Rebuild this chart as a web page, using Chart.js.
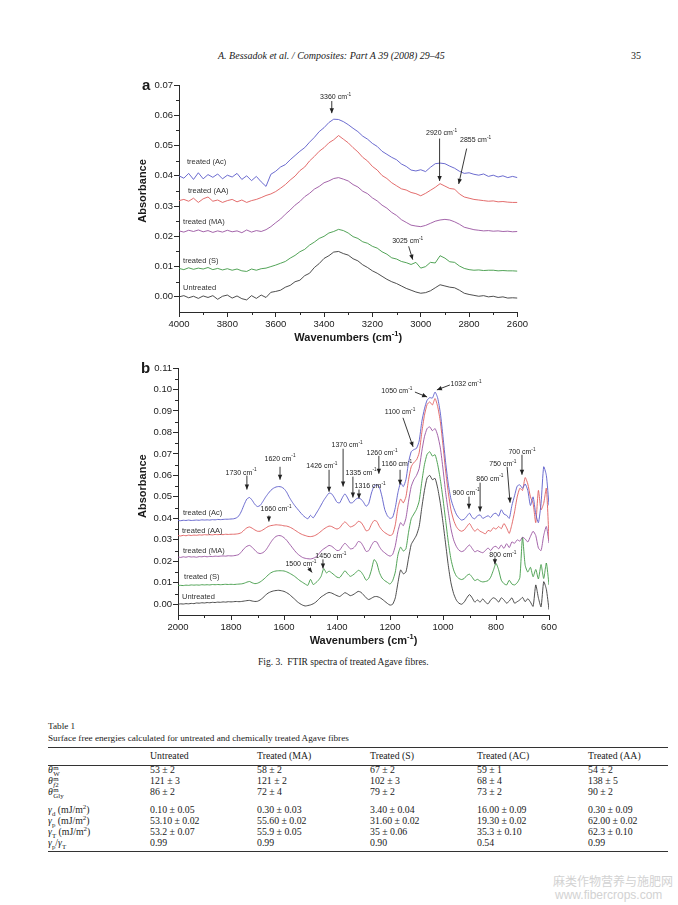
<!DOCTYPE html>
<html>
<head>
<meta charset="utf-8">
<title>FTIR spectra of treated Agave fibres</title>
<script src="https://cdn.jsdelivr.net/npm/chart.js@4.4.0/dist/chart.umd.min.js"></script>
<style>
  body { margin: 0; width: 678px; height: 905px; position: relative; overflow: hidden; background: #fff; color: #1a1a1a; font-family: "Liberation Serif", "Times New Roman", serif; }
  .abs { position: absolute; white-space: nowrap; }
  canvas { position: absolute; }
  .tbl { font-size: 9.8px; line-height: 11px; }
  .rule { position: absolute; left: 48px; width: 620px; height: 0; border-top: 1px solid #333; }
  sub, sup { font-size: 0.7em; line-height: 0; }
  .ss { display: inline-block; vertical-align: middle; font-size: 0.7em; line-height: 0.8em; margin-left: 0.5px; }
  .ss span { display: block; }
  .wm { color: #d2d2d2; font-family: "Noto Sans CJK SC", "Noto Sans", sans-serif; font-size: 12px; }
</style>
</head>
<body>

<div class="abs" style="left:218px;top:50px;font-size:10px;font-style:italic;">A. Bessadok et al. / Composites: Part A 39 (2008) 29–45</div>
<div class="abs" style="left:631px;top:50px;font-size:10px;">35</div>

<canvas id="chartA" width="400" height="272" style="left:130px;top:78px;width:400px;height:272px"></canvas>
<canvas id="chartB" width="430" height="290" style="left:130px;top:360px;width:430px;height:290px"></canvas>

<div class="abs" style="left:258px;top:657px;font-size:9.5px;">Fig. 3.&nbsp; FTIR spectra of treated Agave fibres.</div>

<div class="abs tbl" style="left:48px;top:721px;font-size:9.2px;">Table 1</div>
<div class="abs tbl" style="left:48px;top:733px;font-size:9.2px;">Surface free energies calculated for untreated and chemically treated Agave fibres</div>
<div class="rule" style="top:747px"></div>
<div class="rule" style="top:765px"></div>
<div class="rule" style="top:851px"></div>
<div id="table"></div>

<div class="abs wm" style="left:553px;top:872px;">麻类作物营养与施肥网</div>
<div class="abs wm" style="left:555px;top:888px;font-family:'Liberation Sans',sans-serif;font-size:12px;">www.fibercrops.com</div>

<script>
// ---- data: panel a (3-band region), wavenumbers in cm-1 ----
const WN_A = [
  4000, 3980, 3960, 3940, 3920, 3900, 3880, 3860, 3840, 3820,
  3800, 3780, 3760, 3740, 3720, 3700, 3680, 3660, 3640, 3620,
  3600, 3580, 3560, 3540, 3520, 3500, 3480, 3460, 3440, 3420,
  3400, 3380, 3360, 3340, 3320, 3300, 3280, 3260, 3240, 3220,
  3200, 3180, 3160, 3140, 3120, 3100, 3080, 3060, 3040, 3020,
  3000, 2980, 2960, 2940, 2920, 2900, 2880, 2860, 2840, 2820,
  2800, 2780, 2760, 2740, 2720, 2700, 2680, 2660, 2640, 2620,
  2600
];
const AC_A = [
  0.0400, 0.0392, 0.0408, 0.0388, 0.0410, 0.0390, 0.0404, 0.0395, 0.0406, 0.0390,
  0.0402, 0.0396, 0.0408, 0.0388, 0.0400, 0.0384, 0.0398, 0.0380, 0.0365, 0.0405,
  0.0415, 0.0429, 0.0437, 0.0453, 0.0467, 0.0481, 0.0493, 0.0511, 0.0527, 0.0546,
  0.0559, 0.0576, 0.0587, 0.0586, 0.0579, 0.0569, 0.0557, 0.0546, 0.0531, 0.0521,
  0.0507, 0.0497, 0.0481, 0.0471, 0.0461, 0.0453, 0.0439, 0.0431, 0.0419, 0.0416,
  0.0420, 0.0414, 0.0428, 0.0440, 0.0442, 0.0440, 0.0432, 0.0425, 0.0415, 0.0408,
  0.0410, 0.0405, 0.0402, 0.0406, 0.0398, 0.0402, 0.0396, 0.0400, 0.0394, 0.0398,
  0.0394
];
const AA_A = [
  0.0318, 0.0322, 0.0316, 0.0326, 0.0312, 0.0324, 0.0330, 0.0316, 0.0320, 0.0312,
  0.0318, 0.0322, 0.0314, 0.0320, 0.0312, 0.0318, 0.0322, 0.0328, 0.0335, 0.0340,
  0.0348, 0.0359, 0.0371, 0.0386, 0.0399, 0.0417, 0.0429, 0.0449, 0.0464, 0.0481,
  0.0493, 0.0509, 0.0519, 0.0533, 0.0521, 0.0509, 0.0493, 0.0479, 0.0461, 0.0449,
  0.0431, 0.0419, 0.0401, 0.0391, 0.0377, 0.0367, 0.0357, 0.0353, 0.0345, 0.0341,
  0.0334, 0.0342, 0.0352, 0.0362, 0.0374, 0.0366, 0.0358, 0.0356, 0.0340, 0.0330,
  0.0326, 0.0322, 0.0320, 0.0318, 0.0316, 0.0317, 0.0314, 0.0315, 0.0313, 0.0312,
  0.0312
];
const MA_A = [
  0.0218, 0.0214, 0.0220, 0.0216, 0.0221, 0.0215, 0.0219, 0.0213, 0.0218, 0.0214,
  0.0220, 0.0215, 0.0218, 0.0212, 0.0221, 0.0214, 0.0219, 0.0216, 0.0222, 0.0232,
  0.0245, 0.0257, 0.0273, 0.0287, 0.0303, 0.0315, 0.0331, 0.0342, 0.0356, 0.0365,
  0.0377, 0.0383, 0.0391, 0.0394, 0.0389, 0.0383, 0.0371, 0.0363, 0.0349, 0.0341,
  0.0327, 0.0317, 0.0303, 0.0293, 0.0279, 0.0269, 0.0255, 0.0246, 0.0237, 0.0234,
  0.0232, 0.0236, 0.0243, 0.0250, 0.0254, 0.0256, 0.0254, 0.0248, 0.0240, 0.0230,
  0.0226, 0.0222, 0.0220, 0.0218, 0.0219, 0.0217, 0.0218, 0.0216, 0.0217, 0.0215,
  0.0216
];
const S_A = [
  0.0094, 0.0090, 0.0096, 0.0091, 0.0095, 0.0092, 0.0097, 0.0090, 0.0094, 0.0089,
  0.0093, 0.0088, 0.0092, 0.0086, 0.0084, 0.0092, 0.0088, 0.0093, 0.0095, 0.0100,
  0.0105, 0.0111, 0.0117, 0.0128, 0.0137, 0.0149, 0.0157, 0.0171, 0.0181, 0.0193,
  0.0200, 0.0211, 0.0216, 0.0223, 0.0219, 0.0211, 0.0199, 0.0193, 0.0182, 0.0177,
  0.0167, 0.0161, 0.0149, 0.0141, 0.0129, 0.0125, 0.0117, 0.0113, 0.0107, 0.0114,
  0.0095, 0.0100, 0.0114, 0.0112, 0.0136, 0.0128, 0.0116, 0.0114, 0.0102, 0.0094,
  0.0090, 0.0088, 0.0089, 0.0087, 0.0088, 0.0088, 0.0086, 0.0087, 0.0086, 0.0086,
  0.0085
];
const UNTREATED_A = [
  0.0000, 0.0004, -0.0003, 0.0002, -0.0005, 0.0003, -0.0002, 0.0004, -0.0008, 0.0002,
  0.0006, -0.0004, 0.0003, -0.0006, -0.0010, 0.0004, -0.0005, 0.0006, -0.0002, 0.0015,
  0.0018, 0.0022, 0.0032, 0.0038, 0.0050, 0.0055, 0.0070, 0.0078, 0.0097, 0.0110,
  0.0127, 0.0136, 0.0148, 0.0150, 0.0143, 0.0138, 0.0126, 0.0119, 0.0106, 0.0097,
  0.0086, 0.0078, 0.0068, 0.0058, 0.0050, 0.0044, 0.0036, 0.0028, 0.0022, 0.0016,
  0.0012, 0.0014, 0.0020, 0.0030, 0.0040, 0.0036, 0.0032, 0.0030, 0.0022, 0.0012,
  0.0008, 0.0005, 0.0002, 0.0004, 0.0000, 0.0002, -0.0002, 0.0000, -0.0004, -0.0003,
  -0.0004
];

// ---- data: panel b (fingerprint region) ----
const WN_B = [
  2000, 1990, 1980, 1970, 1960, 1950, 1940, 1930, 1920, 1910,
  1900, 1890, 1880, 1870, 1860, 1850, 1840, 1830, 1820, 1810,
  1800, 1790, 1780, 1770, 1760, 1750, 1740, 1730, 1720, 1710,
  1700, 1690, 1680, 1670, 1660, 1650, 1640, 1630, 1620, 1610,
  1600, 1590, 1580, 1570, 1560, 1550, 1540, 1530, 1520, 1510,
  1500, 1490, 1480, 1470, 1460, 1450, 1440, 1430, 1420, 1410,
  1400, 1390, 1380, 1370, 1360, 1350, 1340, 1330, 1320, 1310,
  1300, 1290, 1280, 1270, 1260, 1250, 1240, 1230, 1220, 1210,
  1200, 1190, 1180, 1170, 1160, 1150, 1140, 1130, 1120, 1110,
  1100, 1090, 1080, 1070, 1060, 1050, 1040, 1030, 1020, 1010,
  1000, 990, 980, 970, 960, 950, 940, 930, 920, 910,
  900, 890, 880, 870, 860, 850, 840, 830, 820, 810,
  800, 790, 780, 770, 760, 750, 740, 730, 720, 710,
  700, 690, 680, 670, 660, 650, 640, 630, 620, 610,
  600
];
const AC_B = [
  0.0390, 0.0389, 0.0391, 0.0390, 0.0392, 0.0390, 0.0391, 0.0392, 0.0391, 0.0393,
  0.0392, 0.0393, 0.0392, 0.0394, 0.0393, 0.0395, 0.0394, 0.0395, 0.0396, 0.0396,
  0.0397, 0.0398, 0.0402, 0.0412, 0.0435, 0.0465, 0.0490, 0.0497, 0.0484, 0.0465,
  0.0455, 0.0460, 0.0478, 0.0498, 0.0515, 0.0530, 0.0540, 0.0546, 0.0548, 0.0546,
  0.0538, 0.0522, 0.0498, 0.0478, 0.0460, 0.0445, 0.0430, 0.0416, 0.0405, 0.0398,
  0.0414, 0.0402, 0.0420, 0.0440, 0.0462, 0.0484, 0.0502, 0.0518, 0.0514, 0.0496,
  0.0475, 0.0472, 0.0496, 0.0514, 0.0495, 0.0472, 0.0474, 0.0488, 0.0495, 0.0490,
  0.0475, 0.0456, 0.0470, 0.0518, 0.0550, 0.0556, 0.0545, 0.0500, 0.0442, 0.0412,
  0.0400, 0.0405, 0.0450, 0.0520, 0.0565, 0.0548, 0.0580, 0.0660, 0.0710, 0.0720,
  0.0726, 0.0760, 0.0850, 0.0910, 0.0950, 0.0962, 0.0960, 0.0988, 0.0960, 0.0890,
  0.0780, 0.0660, 0.0560, 0.0490, 0.0450, 0.0420, 0.0402, 0.0392, 0.0396, 0.0410,
  0.0424, 0.0404, 0.0398, 0.0412, 0.0416, 0.0400, 0.0406, 0.0412, 0.0404, 0.0420,
  0.0424, 0.0410, 0.0440, 0.0420, 0.0414, 0.0400, 0.0460, 0.0505, 0.0550, 0.0556,
  0.0540, 0.0560, 0.0530, 0.0460, 0.0500, 0.0420, 0.0380, 0.0470, 0.0640, 0.0600,
  0.0460
];
const AA_B = [
  0.0320, 0.0318, 0.0321, 0.0319, 0.0322, 0.0320, 0.0322, 0.0321, 0.0323, 0.0322,
  0.0324, 0.0323, 0.0324, 0.0323, 0.0325, 0.0324, 0.0325, 0.0324, 0.0326, 0.0325,
  0.0326, 0.0326, 0.0327, 0.0329, 0.0334, 0.0346, 0.0356, 0.0360, 0.0354, 0.0346,
  0.0340, 0.0340, 0.0346, 0.0354, 0.0362, 0.0366, 0.0368, 0.0370, 0.0369, 0.0368,
  0.0365, 0.0364, 0.0360, 0.0354, 0.0346, 0.0338, 0.0330, 0.0324, 0.0320, 0.0316,
  0.0315, 0.0317, 0.0322, 0.0330, 0.0340, 0.0350, 0.0358, 0.0364, 0.0362, 0.0355,
  0.0350, 0.0356, 0.0372, 0.0384, 0.0372, 0.0360, 0.0364, 0.0372, 0.0386, 0.0382,
  0.0364, 0.0342, 0.0346, 0.0372, 0.0390, 0.0386, 0.0362, 0.0345, 0.0334, 0.0326,
  0.0320, 0.0326, 0.0370, 0.0450, 0.0490, 0.0472, 0.0500, 0.0580, 0.0640, 0.0660,
  0.0672, 0.0705, 0.0800, 0.0880, 0.0930, 0.0942, 0.0928, 0.0958, 0.0920, 0.0850,
  0.0740, 0.0620, 0.0520, 0.0440, 0.0392, 0.0362, 0.0346, 0.0340, 0.0346, 0.0362,
  0.0376, 0.0356, 0.0340, 0.0350, 0.0340, 0.0334, 0.0328, 0.0344, 0.0340, 0.0356,
  0.0350, 0.0362, 0.0352, 0.0376, 0.0356, 0.0330, 0.0372, 0.0430, 0.0500, 0.0540,
  0.0530, 0.0590, 0.0560, 0.0500, 0.0470, 0.0380, 0.0530, 0.0440, 0.0470, 0.0540,
  0.0300
];
const MA_B = [
  0.0220, 0.0218, 0.0221, 0.0219, 0.0222, 0.0220, 0.0221, 0.0219, 0.0222, 0.0221,
  0.0223, 0.0221, 0.0223, 0.0222, 0.0224, 0.0223, 0.0224, 0.0225, 0.0224, 0.0226,
  0.0225, 0.0226, 0.0228, 0.0232, 0.0245, 0.0260, 0.0270, 0.0274, 0.0265, 0.0252,
  0.0240, 0.0236, 0.0240, 0.0250, 0.0268, 0.0288, 0.0305, 0.0316, 0.0320, 0.0318,
  0.0310, 0.0298, 0.0282, 0.0266, 0.0250, 0.0236, 0.0226, 0.0218, 0.0214, 0.0212,
  0.0211, 0.0214, 0.0220, 0.0232, 0.0248, 0.0258, 0.0266, 0.0274, 0.0270, 0.0260,
  0.0250, 0.0252, 0.0270, 0.0284, 0.0272, 0.0258, 0.0260, 0.0272, 0.0292, 0.0288,
  0.0268, 0.0246, 0.0250, 0.0274, 0.0292, 0.0290, 0.0268, 0.0250, 0.0240, 0.0230,
  0.0224, 0.0232, 0.0272, 0.0340, 0.0380, 0.0366, 0.0400, 0.0480, 0.0548, 0.0580,
  0.0600, 0.0632, 0.0712, 0.0780, 0.0818, 0.0826, 0.0808, 0.0818, 0.0786, 0.0728,
  0.0630, 0.0520, 0.0430, 0.0352, 0.0300, 0.0270, 0.0252, 0.0245, 0.0250, 0.0265,
  0.0276, 0.0260, 0.0244, 0.0250, 0.0244, 0.0240, 0.0250, 0.0262, 0.0250, 0.0266,
  0.0270, 0.0258, 0.0276, 0.0260, 0.0282, 0.0264, 0.0290, 0.0284, 0.0300, 0.0294,
  0.0312, 0.0304, 0.0290, 0.0316, 0.0340, 0.0320, 0.0262, 0.0250, 0.0320, 0.0362,
  0.0285
];
const S_B = [
  0.0087, 0.0088, 0.0087, 0.0089, 0.0088, 0.0090, 0.0089, 0.0090, 0.0089, 0.0091,
  0.0090, 0.0091, 0.0090, 0.0092, 0.0091, 0.0092, 0.0091, 0.0092, 0.0093, 0.0092,
  0.0093, 0.0092, 0.0093, 0.0094, 0.0095, 0.0098, 0.0103, 0.0106, 0.0100, 0.0096,
  0.0098, 0.0104, 0.0113, 0.0124, 0.0136, 0.0146, 0.0152, 0.0155, 0.0156, 0.0156,
  0.0155, 0.0151, 0.0145, 0.0138, 0.0130, 0.0120, 0.0110, 0.0102, 0.0094, 0.0088,
  0.0116, 0.0092, 0.0100, 0.0112, 0.0130, 0.0166, 0.0146, 0.0154, 0.0146, 0.0136,
  0.0126, 0.0124, 0.0140, 0.0156, 0.0142, 0.0130, 0.0136, 0.0146, 0.0158, 0.0152,
  0.0134, 0.0112, 0.0122, 0.0160, 0.0208, 0.0192, 0.0148, 0.0122, 0.0110, 0.0102,
  0.0094, 0.0110, 0.0150, 0.0230, 0.0266, 0.0248, 0.0258, 0.0335, 0.0398, 0.0420,
  0.0442, 0.0480, 0.0570, 0.0650, 0.0698, 0.0710, 0.0690, 0.0696, 0.0650, 0.0580,
  0.0490, 0.0390, 0.0290, 0.0210, 0.0160, 0.0132, 0.0120, 0.0115, 0.0120, 0.0134,
  0.0140, 0.0126, 0.0110, 0.0116, 0.0108, 0.0104, 0.0106, 0.0110, 0.0126, 0.0158,
  0.0190, 0.0160, 0.0112, 0.0096, 0.0090, 0.0112, 0.0094, 0.0090, 0.0100, 0.0124,
  0.0312, 0.0182, 0.0150, 0.0172, 0.0128, 0.0162, 0.0118, 0.0185, 0.0120, 0.0192,
  0.0090
];
const UNTREATED_B = [
  0.0000, 0.0002, 0.0001, 0.0003, 0.0002, 0.0004, 0.0003, 0.0006, 0.0005, 0.0007,
  0.0006, 0.0008, 0.0007, 0.0009, 0.0008, 0.0010, 0.0009, 0.0011, 0.0010, 0.0012,
  0.0011, 0.0012, 0.0013, 0.0012, 0.0013, 0.0015, 0.0017, 0.0018, 0.0015, 0.0013,
  0.0014, 0.0020, 0.0030, 0.0042, 0.0052, 0.0058, 0.0062, 0.0064, 0.0065, 0.0063,
  0.0060, 0.0054, 0.0046, 0.0035, 0.0024, 0.0012, 0.0003, -0.0004, -0.0008, -0.0006,
  -0.0003, 0.0002, 0.0010, 0.0022, 0.0034, 0.0042, 0.0050, 0.0055, 0.0052, 0.0046,
  0.0040, 0.0036, 0.0045, 0.0054, 0.0048, 0.0040, 0.0044, 0.0052, 0.0060, 0.0056,
  0.0044, 0.0030, 0.0022, 0.0028, 0.0035, 0.0036, 0.0032, 0.0024, 0.0014, 0.0004,
  -0.0004, 0.0000, 0.0030, 0.0100, 0.0160, 0.0142, 0.0150, 0.0215, 0.0278, 0.0300,
  0.0322, 0.0362, 0.0450, 0.0530, 0.0588, 0.0600, 0.0580, 0.0586, 0.0540, 0.0470,
  0.0380, 0.0280, 0.0180, 0.0100, 0.0050, 0.0020, 0.0005, 0.0000, 0.0010, 0.0030,
  0.0045, 0.0030, 0.0010, 0.0020, 0.0010, 0.0025, 0.0010, 0.0002, 0.0020, 0.0030,
  0.0024, 0.0010, 0.0030, 0.0020, 0.0005, 0.0015, 0.0030, 0.0005, 0.0012, 0.0020,
  0.0032, 0.0012, 0.0026, 0.0010, -0.0010, 0.0090, 0.0030, -0.0012, 0.0105, 0.0070,
  -0.0025
];

const SERIES_NAMES = ['treated (Ac)', 'treated (AA)', 'treated (MA)', 'treated (S)', 'Untreated'];
const X_TICKS_A = [4000, 3800, 3600, 3400, 3200, 3000, 2800, 2600];
const Y_TICKS_A = [0, 0.01, 0.02, 0.03, 0.04, 0.05, 0.06, 0.07];
const X_TICKS_B = [2000, 1800, 1600, 1400, 1200, 1000, 800, 600];
const Y_TICKS_B = [0, 0.01, 0.02, 0.03, 0.04, 0.05, 0.06, 0.07, 0.08, 0.09, 0.10, 0.11];

// band labels: text, label centre, arrow start, arrow end (wavenumber, absorbance)
const PEAKS_A = [
  { t: '3360', at: [3352, 0.0660], from: [3368, 0.0647], to: [3368, 0.0607] },
  { t: '2920', at: [2914, 0.0540], from: [2922, 0.0523], to: [2922, 0.0383] },
  { t: '2855', at: [2773, 0.0517], from: [2810, 0.0490], to: [2843, 0.0373] },
  { t: '3025', at: [3054, 0.0183], from: [3050, 0.0167], to: [3033, 0.0123] }
];
const PEAKS_B = [
  { t: '1730', at: [1762, 0.0613], from: [1740, 0.0599], to: [1740, 0.0534] },
  { t: '1620', at: [1615, 0.0678], from: [1615, 0.0640], to: [1615, 0.0580] },
  { t: '1426', at: [1457, 0.0645], from: [1430, 0.0626], to: [1430, 0.0524] },
  { t: '1370', at: [1362, 0.0742], from: [1377, 0.0724], to: [1377, 0.0548] },
  { t: '1335', at: [1309, 0.0613], from: [1340, 0.0594], to: [1340, 0.0497] },
  { t: '1316', at: [1275, 0.0548], from: [1317, 0.0534], to: [1317, 0.0492] },
  { t: '1260', at: [1230, 0.0705], from: [1242, 0.0691], to: [1242, 0.0608] },
  { t: '1160', at: [1174, 0.0654], from: [1162, 0.0626], to: [1162, 0.0557] },
  { t: '1100', at: [1162, 0.0896], from: [1151, 0.0868], to: [1113, 0.0733] },
  { t: '1050', at: [1174, 0.0993], from: [1106, 0.0988], to: [1060, 0.0965] },
  { t: '1032', at: [913, 0.1026], from: [974, 0.1021], to: [1023, 0.0998] },
  { t: '900', at: [913, 0.0520], from: [902, 0.0501], to: [902, 0.0445] },
  { t: '860', at: [823, 0.0585], from: [860, 0.0566], to: [860, 0.0432] },
  { t: '750', at: [774, 0.0654], from: [758, 0.0640], to: [747, 0.0473] },
  { t: '700', at: [702, 0.0710], from: [702, 0.0696], to: [702, 0.0603] },
  { t: '1660', at: [1630, 0.0441], from: [1657, 0.0413], to: [1657, 0.0385] },
  { t: '1500', at: [1536, 0.0186], from: [1509, 0.0172], to: [1494, 0.0148] },
  { t: '1450', at: [1423, 0.0223], from: [1453, 0.0209], to: [1453, 0.0167] },
  { t: '800', at: [774, 0.0227], from: [804, 0.0218], to: [804, 0.0186] }
];
const NAME_POS_A = [[3967, 0.0447], [3963, 0.0350], [3983, 0.0247], [3983, 0.0120], [3983, 0.0030]];
const NAME_POS_B = [[1981, 0.0427], [1985, 0.0343], [1981, 0.0246], [1977, 0.0125], [1985, 0.0032]];

// table 1
const TABLE_COLS = ['Untreated', 'Treated (MA)', 'Treated (S)', 'Treated (AC)', 'Treated (AA)'];
const TABLE_LABELS = [
  '<i>θ</i><span class="ss"><span>m</span><span>W</span></span>',
  '<i>θ</i><span class="ss"><span>m</span><span><i>f</i>2</span></span>',
  '<i>θ</i><span class="ss"><span>m</span><span>Gly</span></span>',
  '<i>γ</i><sub>d</sub> (mJ/m<sup>2</sup>)',
  '<i>γ</i><sub>p</sub> (mJ/m<sup>2</sup>)',
  '<i>γ</i><sub>T</sub> (mJ/m<sup>2</sup>)',
  '<i>γ</i><sub>p</sub>/<i>γ</i><sub>T</sub>'
];
const TABLE_ROWS = [
  ['53 ± 2', '58 ± 2', '67 ± 2', '59 ± 1', '54 ± 2'],
  ['121 ± 3', '121 ± 2', '102 ± 3', '68 ± 4', '138 ± 5'],
  ['86 ± 2', '72 ± 4', '79 ± 2', '73 ± 2', '90 ± 2'],
  ['0.10 ± 0.05', '0.30 ± 0.03', '3.40 ± 0.04', '16.00 ± 0.09', '0.30 ± 0.09'],
  ['53.10 ± 0.02', '55.60 ± 0.02', '31.60 ± 0.02', '19.30 ± 0.02', '62.00 ± 0.02'],
  ['53.2 ± 0.07', '55.9 ± 0.05', '35 ± 0.06', '35.3 ± 0.10', '62.3 ± 0.10'],
  ['0.99', '0.99', '0.90', '0.54', '0.99']
];

// ---- styling ----
const LINE_COLORS = ['#5b5bc9', '#e05c5c', '#9a54a0', '#3f9a45', '#3a3a3a'];
const AXIS = '#2a2a2a';
const SANS = '"Liberation Sans", Arial, sans-serif';
const COL_X = [48, 150, 257, 370, 477, 588];
const ROW_Y = [770, 781, 792, 810, 821, 832, 843];

(function buildTable() {
  const host = document.getElementById('table');
  let html = '';
  TABLE_COLS.forEach((c, i) => {
    html += `<div class="abs tbl" style="left:${COL_X[i + 1]}px;top:${756 - 6}px">${c}</div>`;
  });
  TABLE_ROWS.forEach((row, r) => {
    html += `<div class="abs tbl" style="left:${COL_X[0]}px;top:${ROW_Y[r] - 6}px">${TABLE_LABELS[r]}</div>`;
    row.forEach((v, c) => {
      html += `<div class="abs tbl" style="left:${COL_X[c + 1]}px;top:${ROW_Y[r] - 6}px">${v}</div>`;
    });
  });
  host.innerHTML = html;
})();

function drawRich(ctx, parts, x, y, size, bold, align) {
  const w = bold ? 'bold ' : '';
  let total = 0;
  const widths = parts.map(([t, sup]) => {
    ctx.font = w + (sup ? size * 0.68 : size) + 'px ' + SANS;
    const m = ctx.measureText(t).width;
    total += m;
    return m;
  });
  let cx = align === 'center' ? x - total / 2 : x;
  ctx.textAlign = 'left';
  ctx.textBaseline = 'middle';
  parts.forEach(([t, sup], i) => {
    ctx.font = w + (sup ? size * 0.68 : size) + 'px ' + SANS;
    ctx.fillText(t, cx, sup ? y - size * 0.35 : y);
    cx += widths[i];
  });
}

function arrow(ctx, x0, y0, x1, y1) {
  ctx.beginPath();
  ctx.moveTo(x0, y0);
  ctx.lineTo(x1, y1);
  ctx.stroke();
  const a = Math.atan2(y1 - y0, x1 - x0), L = 5, W = 2.2;
  ctx.beginPath();
  ctx.moveTo(x1, y1);
  ctx.lineTo(x1 - L * Math.cos(a) + W * Math.sin(a), y1 - L * Math.sin(a) - W * Math.cos(a));
  ctx.lineTo(x1 - L * Math.cos(a) - W * Math.sin(a), y1 - L * Math.sin(a) + W * Math.cos(a));
  ctx.closePath();
  ctx.fill();
}

const overlay = {
  id: 'overlay',
  afterDraw(chart, args, o) {
    const ctx = chart.ctx, xs = chart.scales.x, ys = chart.scales.y, area = chart.chartArea;
    ctx.save();

    // minor ticks halfway between the labelled ones
    ctx.strokeStyle = AXIS;
    ctx.lineWidth = 1;
    ctx.beginPath();
    for (let i = 0; i < o.xTicks.length - 1; i++) {
      const px = Math.round(xs.getPixelForValue((o.xTicks[i] + o.xTicks[i + 1]) / 2)) + 0.5;
      ctx.moveTo(px, area.bottom);
      ctx.lineTo(px, area.bottom + 3);
    }
    for (let i = 0; i < o.yTicks.length - 1; i++) {
      const py = Math.round(ys.getPixelForValue((o.yTicks[i] + o.yTicks[i + 1]) / 2)) + 0.5;
      ctx.moveTo(area.left, py);
      ctx.lineTo(area.left - 3, py);
    }
    ctx.stroke();

    // series names
    ctx.fillStyle = '#333';
    ctx.font = '7.5px ' + SANS;
    ctx.textAlign = 'left';
    ctx.textBaseline = 'middle';
    o.names.forEach((p, i) => {
      ctx.fillText(SERIES_NAMES[i], xs.getPixelForValue(p[0]), ys.getPixelForValue(p[1]));
    });

    // band assignments with arrows
    ctx.fillStyle = '#222';
    ctx.strokeStyle = '#222';
    ctx.lineWidth = 0.9;
    o.peaks.forEach(pk => {
      drawRich(ctx, [[pk.t + ' cm', false], ['-1', true]],
        xs.getPixelForValue(pk.at[0]), ys.getPixelForValue(pk.at[1]), 7, false, 'center');
      arrow(ctx, xs.getPixelForValue(pk.from[0]), ys.getPixelForValue(pk.from[1]),
        xs.getPixelForValue(pk.to[0]), ys.getPixelForValue(pk.to[1]));
    });

    // axis titles and panel letter
    ctx.fillStyle = '#1a1a1a';
    drawRich(ctx, [['Wavenumbers (cm', false], ['-1', true], [')', false]],
      (area.left + area.right) / 2, area.bottom + 26, 11, true, 'center');
    const yMid = (ys.getPixelForValue(o.yTicks[0]) + ys.getPixelForValue(o.yTicks[o.yTicks.length - 1])) / 2;
    ctx.save();
    ctx.translate(area.left - o.titleGap, yMid);
    ctx.rotate(-Math.PI / 2);
    ctx.font = 'bold 11px ' + SANS;
    ctx.textAlign = 'center';
    ctx.textBaseline = 'middle';
    ctx.fillText('Absorbance', 0, 0);
    ctx.restore();

    ctx.font = 'bold 15px ' + SANS;
    ctx.textAlign = 'left';
    ctx.textBaseline = 'alphabetic';
    ctx.fillText(o.letter, area.left - 37, area.top + o.letterDy);
    ctx.restore();
  }
};

function makeChart(id, p) {
  const datasets = p.series.map((s, i) => ({
    label: SERIES_NAMES[i],
    data: p.wn.map((w, j) => ({ x: w, y: s[j] })),
    borderColor: LINE_COLORS[i],
    borderWidth: 0.9,
    pointRadius: 0,
    tension: p.tension,
    fill: false
  }));
  const tickFont = { family: SANS, size: 9.5 };
  return new Chart(document.getElementById(id), {
    type: 'line',
    data: { datasets },
    plugins: [overlay],
    options: {
      responsive: false,
      devicePixelRatio: 1,
      animation: false,
      events: [],
      layout: { padding: p.padding },
      plugins: {
        legend: { display: false },
        tooltip: { enabled: false },
        overlay: { xTicks: p.xTicks, yTicks: p.yTicks, names: p.names, peaks: p.peaks, letter: p.letter, letterDy: p.letterDy, titleGap: p.titleGap }
      },
      scales: {
        x: {
          type: 'linear', reverse: true, min: p.xMin, max: p.xMax,
          afterBuildTicks: s => { s.ticks = p.xTicks.map(v => ({ value: v })); },
          afterFit: s => { s.height = p.xAxisH; },
          ticks: { font: tickFont, color: '#1a1a1a', padding: 2, maxRotation: 0, autoSkip: false, callback: v => String(v) },
          grid: { drawOnChartArea: false, drawTicks: true, tickLength: 5, color: AXIS },
          border: { display: true, color: AXIS, width: 1 }
        },
        y: {
          type: 'linear', min: p.yMin, max: p.yMax,
          afterBuildTicks: s => { s.ticks = p.yTicks.map(v => ({ value: v })); },
          afterFit: s => { s.width = p.yAxisW; },
          ticks: { font: tickFont, color: '#1a1a1a', padding: 1, autoSkip: false, callback: v => v.toFixed(2) },
          grid: { drawOnChartArea: false, drawTicks: true, tickLength: 5, color: AXIS },
          border: { display: true, color: AXIS, width: 1 }
        }
      }
    }
  });
}

makeChart('chartA', {
  wn: WN_A, series: [AC_A, AA_A, MA_A, S_A, UNTREATED_A],
  xMin: 2600, xMax: 4000, yMin: -0.005, yMax: 0.07,
  xTicks: X_TICKS_A, yTicks: Y_TICKS_A,
  names: NAME_POS_A, peaks: PEAKS_A, letter: 'a', letterDy: 5, titleGap: 36,
  padding: { top: 7, right: 12, left: 0, bottom: 0 }, yAxisW: 49, xAxisH: 38, tension: 0
});

makeChart('chartB', {
  wn: WN_B, series: [AC_B, AA_B, MA_B, S_B, UNTREATED_B],
  xMin: 600, xMax: 2000, yMin: -0.005, yMax: 0.11,
  xTicks: X_TICKS_B, yTicks: Y_TICKS_B,
  names: NAME_POS_B, peaks: PEAKS_B, letter: 'b', letterDy: 5, titleGap: 35,
  padding: { top: 8, right: 11, left: 0, bottom: 0 }, yAxisW: 48, xAxisH: 35, tension: 0.2
});
</script>
</body>
</html>
